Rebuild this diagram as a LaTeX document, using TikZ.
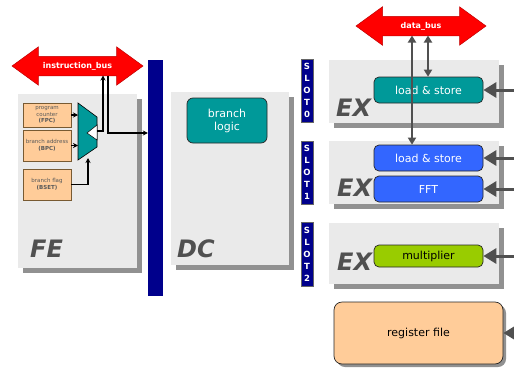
\documentclass[tikz,border=0pt]{standalone}
\usepackage{fontspec}
\setmainfont{DejaVu Sans}
\usetikzlibrary{arrows.meta,shapes.arrows,shadows}

\definecolor{panelgray}{RGB}{234,234,234}
\definecolor{shadowgray}{RGB}{145,145,145}
\definecolor{labelgray}{RGB}{80,80,80}
\definecolor{navy}{RGB}{0,0,140}
\definecolor{tealbox}{RGB}{0,153,153}
\definecolor{bluebox}{RGB}{51,102,255}
\definecolor{greenbox}{RGB}{153,204,0}
\definecolor{peach}{RGB}{255,204,153}
\definecolor{regborder}{RGB}{120,90,50}

\begin{document}
\begin{tikzpicture}
  [x=1pt, y=-1pt,
   panel/.style={fill=panelgray, inner sep=0pt,
     drop shadow={shadow xshift=5pt, shadow yshift=-5pt, fill=shadowgray, opacity=1}},
   stagelabel/.style={anchor=base west, text=labelgray, inner sep=0pt,
     font=\fontsize{24}{24}\selectfont\bfseries\itshape},
   slotbox/.style={fill=navy, draw=black!60, minimum width=12pt, minimum height=63pt,
     inner sep=0pt, text=white, align=center, font=\fontsize{8.5}{12}\selectfont\bfseries},
   bus/.style={double arrow, fill=red, draw=red!75!black, line width=0.5pt,
     double arrow head extend=9.5pt, double arrow tip angle=72,
     minimum height=131pt, minimum width=38pt, inner xsep=0pt, inner ysep=6pt,
     text height=5.5pt, text depth=1.5pt, text=white,
     font=\fontsize{8}{8}\selectfont\bfseries},
   regbox/.style={fill=peach, draw=regborder, line width=0.8pt, minimum width=48pt,
     inner sep=0pt, align=center, text=black!65, font=\fontsize{5.5}{6.8}\selectfont},
   unit/.style={draw=black!85, line width=0.7pt, rounded corners=5pt, minimum width=109pt,
     minimum height=26pt, inner sep=0pt, font=\fontsize{11}{13}\selectfont},
   ctrl/.style={draw=black, line width=1.6pt, -{Stealth[length=5pt,width=5pt]}},
   data/.style={draw=labelgray, line width=2pt,
     {Triangle[length=7pt,width=8pt]}-{Triangle[length=7pt,width=8pt]}},
   feed/.style={draw=labelgray, line width=3pt, -{Triangle[length=13pt,width=15pt]}}]

  \useasboundingbox (0,0) rectangle (514,370);

  % pipeline stages
  \node[panel, minimum width=119pt, minimum height=174pt] (fe) at (77.5,181) {};
  \node[panel, minimum width=118pt, minimum height=173pt] (dc) at (230,178.5) {};
  \node[panel, minimum width=170pt, minimum height=63pt] (ex0) at (414,91.5) {};
  \node[panel, minimum width=170pt, minimum height=63pt] (ex1) at (414,172.5) {};
  \node[panel, minimum width=170pt, minimum height=61pt] (ex2) at (414,253.5) {};

  \node[stagelabel] (felabel) at (30,257) {FE};
  \node[stagelabel] (dclabel) at (177,257) {DC};
  \node[stagelabel] (ex0label) at (336,116) {EX};
  \node[stagelabel] (ex1label) at (337,196) {EX};
  \node[stagelabel] (ex2label) at (337,270) {EX};

  % pipeline register and issue slots
  \node[fill=navy, minimum width=15pt, minimum height=236pt, inner sep=0pt] (bar) at (155.5,178) {};
  \node[slotbox] (slot0) at (307,90.5) {S\\L\\O\\T\\0};
  \node[slotbox] (slot1) at (307,172.5) {S\\L\\O\\T\\1};
  \node[slotbox, minimum height=64pt] (slot2) at (307,254) {S\\L\\O\\T\\2};

  % buses
  \node[bus] (ibus) at (77.5,66) {instruction\_bus};
  \node[bus, minimum height=130pt] (dbus) at (421,26) {data\_bus};

  % fetch registers
  \node[regbox, minimum height=24pt] (pc) at (47,115) {program\\counter\\\textbf{(FPC)}};
  \node[regbox, minimum height=31pt] (ba) at (47,145.5) {branch address\\\textbf{(BPC)}};
  \node[regbox, minimum height=31pt] (bf) at (47,184.5) {branch flag\\\textbf{(BSET)}};

  % mux
  \draw[fill=tealbox, line width=0.6pt] (78,103) -- (97,117) -- (97,147) -- (78,160) -- cycle;
  \draw[fill=white, line width=0.5pt] (97,125) -- (87,133) -- (97,140) -- cycle;
  \coordinate (muxl) at (78,0);
  \coordinate (muxb) at (88,158);
  \coordinate (mo) at (97,131);
  \coordinate (m1) at (103,0);
  \coordinate (m2) at (108,133);
  \coordinate (ibot) at ([yshift=-9.5pt]ibus.center);

  % units
  \node[unit, fill=tealbox, text=white, minimum width=80pt, minimum height=45pt,
        rounded corners=6pt, align=center, font=\fontsize{11}{13}\selectfont] (bl) at (227,120.5) {branch\\logic};
  \node[unit, fill=tealbox, text=white] (ls0) at (428.5,90) {load \& store};
  \node[unit, fill=bluebox, text=white] (ls1) at (428.5,158) {load \& store};
  \node[unit, fill=bluebox, text=white] (fft) at (428.5,189) {FFT};
  \node[unit, fill=greenbox, minimum height=22pt] (mul) at (428.5,256) {multiplier};
  \node[unit, fill=peach, minimum width=169pt, minimum height=62pt, rounded corners=8pt,
        drop shadow={shadow xshift=3pt, shadow yshift=-3pt, fill=shadowgray, opacity=1}] (rf) at (418.5,333) {register file};

  % fetch connections
  \draw[ctrl] (pc.east) -- (pc.east -| muxl);
  \draw[ctrl] (ba.east) -- (ba.east -| muxl);
  \draw[ctrl] (bf.east) -| (muxb);
  \draw[ctrl] (mo) -| (ibot -| m1);
  \draw[ctrl] (ibot -| m2) |- (bar.west |- m2);

  % data bus connections
  \coordinate (dbot) at ([yshift=-9.5pt]dbus.center);
  \coordinate (d1) at (412,0);
  \coordinate (d2) at (428,0);
  \draw[data] (dbot -| d1) -- (ls1.north -| d1);
  \draw[data] (dbot -| d2) -- (ls0.north -| d2);

  % operands from the right
  \coordinate (edge) at (514,0);
  \foreach \u in {ls0,ls1,fft,mul,rf}
    \draw[feed] (\u.east -| edge) -- (\u.east);
\end{tikzpicture}
\end{document}
